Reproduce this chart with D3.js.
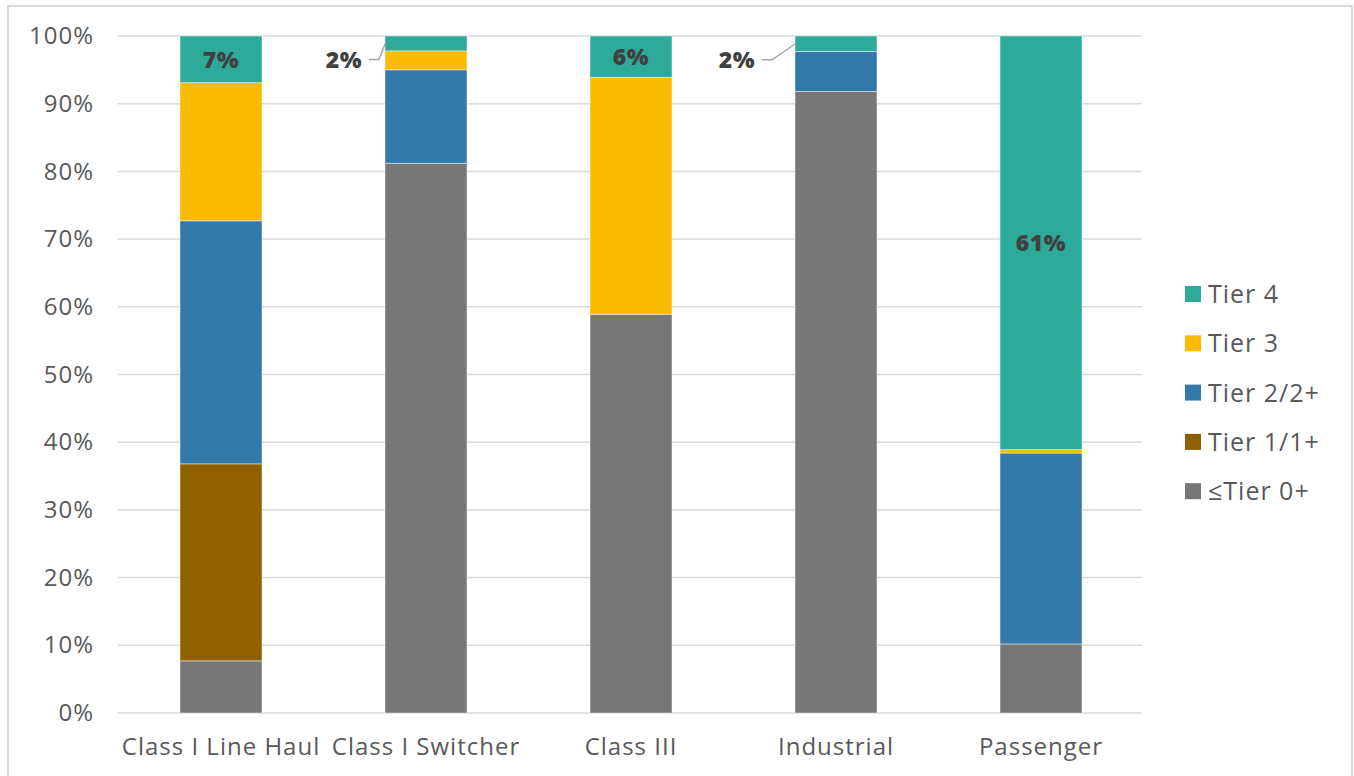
<!DOCTYPE html>
<html><head><meta charset="utf-8">
<script src="https://cdn.jsdelivr.net/npm/d3@7"></script>
<style>body{margin:0;background:#fff;}svg{display:block;font-family:"Open Sans",sans-serif;}</style>
</head><body><svg id="c" width="1354" height="776"></svg>
<script>
const categories = ["Class I Line Haul","Class I Switcher","Class III","Industrial","Passenger"];
const seriesNames = ["≤Tier 0+","Tier 1/1+","Tier 2/2+","Tier 3","Tier 4"];
const tier0 = [7.7, 81.2, 58.9, 91.8, 10.2];
const tier1 = [29.1, 0, 0, 0, 0];
const tier2 = [35.9, 13.8, 0, 5.9, 28.2];
const tier3 = [20.4, 2.8, 35.0, 0, 0.5];
const tier4 = [6.9, 2.2, 6.1, 2.3, 61.1];
const colors = ["#777777","#8f6000","#337aab","#fbbb00","#2eaa9a"];
const yTicks = [0,10,20,30,40,50,60,70,80,90,100];
const tier4Labels = ["7%","2%","6%","2%","61%"];

const FONT = "'Open Sans',sans-serif";
const svg = d3.select("#c");
svg.append("rect").attr("x",8).attr("y",6).attr("width",1344).attr("height",790)
  .attr("fill","none").attr("stroke","#d9d9d9").attr("stroke-width",2);

const x = d3.scaleBand().domain(categories).range([118.5,1143.5]).paddingInner(0.6).paddingOuter(0.3);
const y = d3.scaleLinear().domain([0,100]).range([713,36]);

// gridlines
svg.append("g").selectAll("line").data(yTicks).join("line")
  .attr("x1",118).attr("x2",1142).attr("y1",d=>y(d)).attr("y2",d=>y(d))
  .attr("stroke","#d9d9d9").attr("stroke-width",1.5);

function styleText(sel, size){
  sel.attr("fill","#595959").style("font-size",(size||24)+"px").style("font-family",FONT).style("letter-spacing","1px");
}
// y axis labels
const yAxis = d3.axisLeft(y).tickValues(yTicks).tickFormat(d=>d+"%").tickSize(0).tickPadding(0);
const yg = svg.append("g").attr("transform","translate(94,0)").call(yAxis);
yg.select(".domain").remove();
styleText(yg.selectAll("text"));

// x axis labels
const xAxis = d3.axisBottom(x).tickSize(0).tickPadding(0);
const xg = svg.append("g").attr("transform","translate(0,738)").call(xAxis);
xg.select(".domain").remove();
styleText(xg.selectAll("text"));

// stack
const rows = categories.map((c,i)=>({cat:c, s0:tier0[i], s1:tier1[i], s2:tier2[i], s3:tier3[i], s4:tier4[i]}));
const stacked = d3.stack().keys(["s0","s1","s2","s3","s4"])(rows);
svg.append("g").selectAll("g").data(stacked).join("g").attr("fill",(d,i)=>colors[i])
  .selectAll("rect").data(d=>d).join("rect")
  .attr("x",d=>x(d.data.cat)).attr("width",x.bandwidth())
  .attr("y",d=>y(d[1])).attr("height",d=>Math.max(0,y(d[0])-y(d[1])))
  .attr("stroke","rgba(255,255,255,0.6)").attr("stroke-width",0.75);

// labels
const topSeries = stacked[4];
const lab = svg.append("g").attr("fill","#404040").style("font-weight","800").style("font-size","23px")
  .style("font-family",FONT).style("letter-spacing","0.5px");
[0,2,4].forEach(i=>{
  const d = topSeries[i];
  lab.append("text").attr("x",x(categories[i])+x.bandwidth()/2).attr("y",(y(d[0])+y(d[1]))/2)
    .attr("text-anchor","middle").attr("dy","0.36em").text(tier4Labels[i]);
});
[1,3].forEach(i=>{
  const d = topSeries[i];
  const bx = x(categories[i]);
  const ty = (y(d[0])+y(d[1]))/2;
  const ly = ty + 16;
  const off = i===1 ? 16 : 33;
  svg.append("polyline").attr("points",[[bx-off,ly],[bx-off+10,ly],[bx,y(d[1])+8]].map(p=>p.join(",")).join(" "))
    .attr("fill","none").attr("stroke","#a6a6a6").attr("stroke-width",1.5);
  lab.append("text").attr("x",bx-off-7).attr("y",ly).attr("text-anchor","end").attr("dy","0.36em").text(tier4Labels[i]);
});

// legend
const leg = svg.append("g");
const legOrder = [4,3,2,1,0];
legOrder.forEach((si,k)=>{
  const cy = 294 + k*49.3;
  leg.append("rect").attr("x",1185).attr("y",cy-8).attr("width",16).attr("height",16).attr("fill",colors[si]);
  styleText(leg.append("text").attr("x",1208).attr("y",cy).attr("dy","0.36em").text(seriesNames[si]), 25);
});
</script></body></html>
